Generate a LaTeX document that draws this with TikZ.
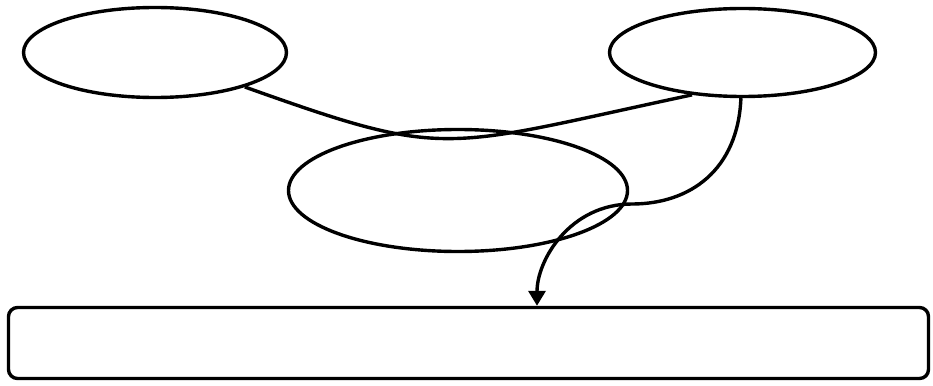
\documentclass[tikz,border=0pt]{standalone}
\usetikzlibrary{shapes.geometric,arrows.meta}
\begin{document}
\begin{tikzpicture}[x=1pt,y=-1pt, line width=3.4pt,
  oval/.style={draw, ellipse, inner sep=0pt},
  bar/.style={draw, rectangle, rounded corners=9pt, inner sep=0pt}]
\useasboundingbox (0,0) rectangle (933,385);
\node[oval, minimum width=263pt, minimum height=90pt] (L) at (155,52.5) {};
\node[oval, minimum width=266pt, minimum height=88pt] (R) at (742.5,52.5) {};
\node[oval, minimum width=339pt, minimum height=122pt] (M) at (458,190.5) {};
\node[bar, minimum width=920pt, minimum height=71pt] (B) at (468.5,343) {};
\draw (L.-21.5) .. controls (450,160) and (438,149) .. (R.-140.4);
\draw[-{Triangle[length=15pt,width=17pt]}] (R.-92) .. controls (738,170) and (690,204) .. (632,204) .. controls (570,204) and (537,260) .. ([xshift=68.5pt]B.north);
\end{tikzpicture}
\end{document}
